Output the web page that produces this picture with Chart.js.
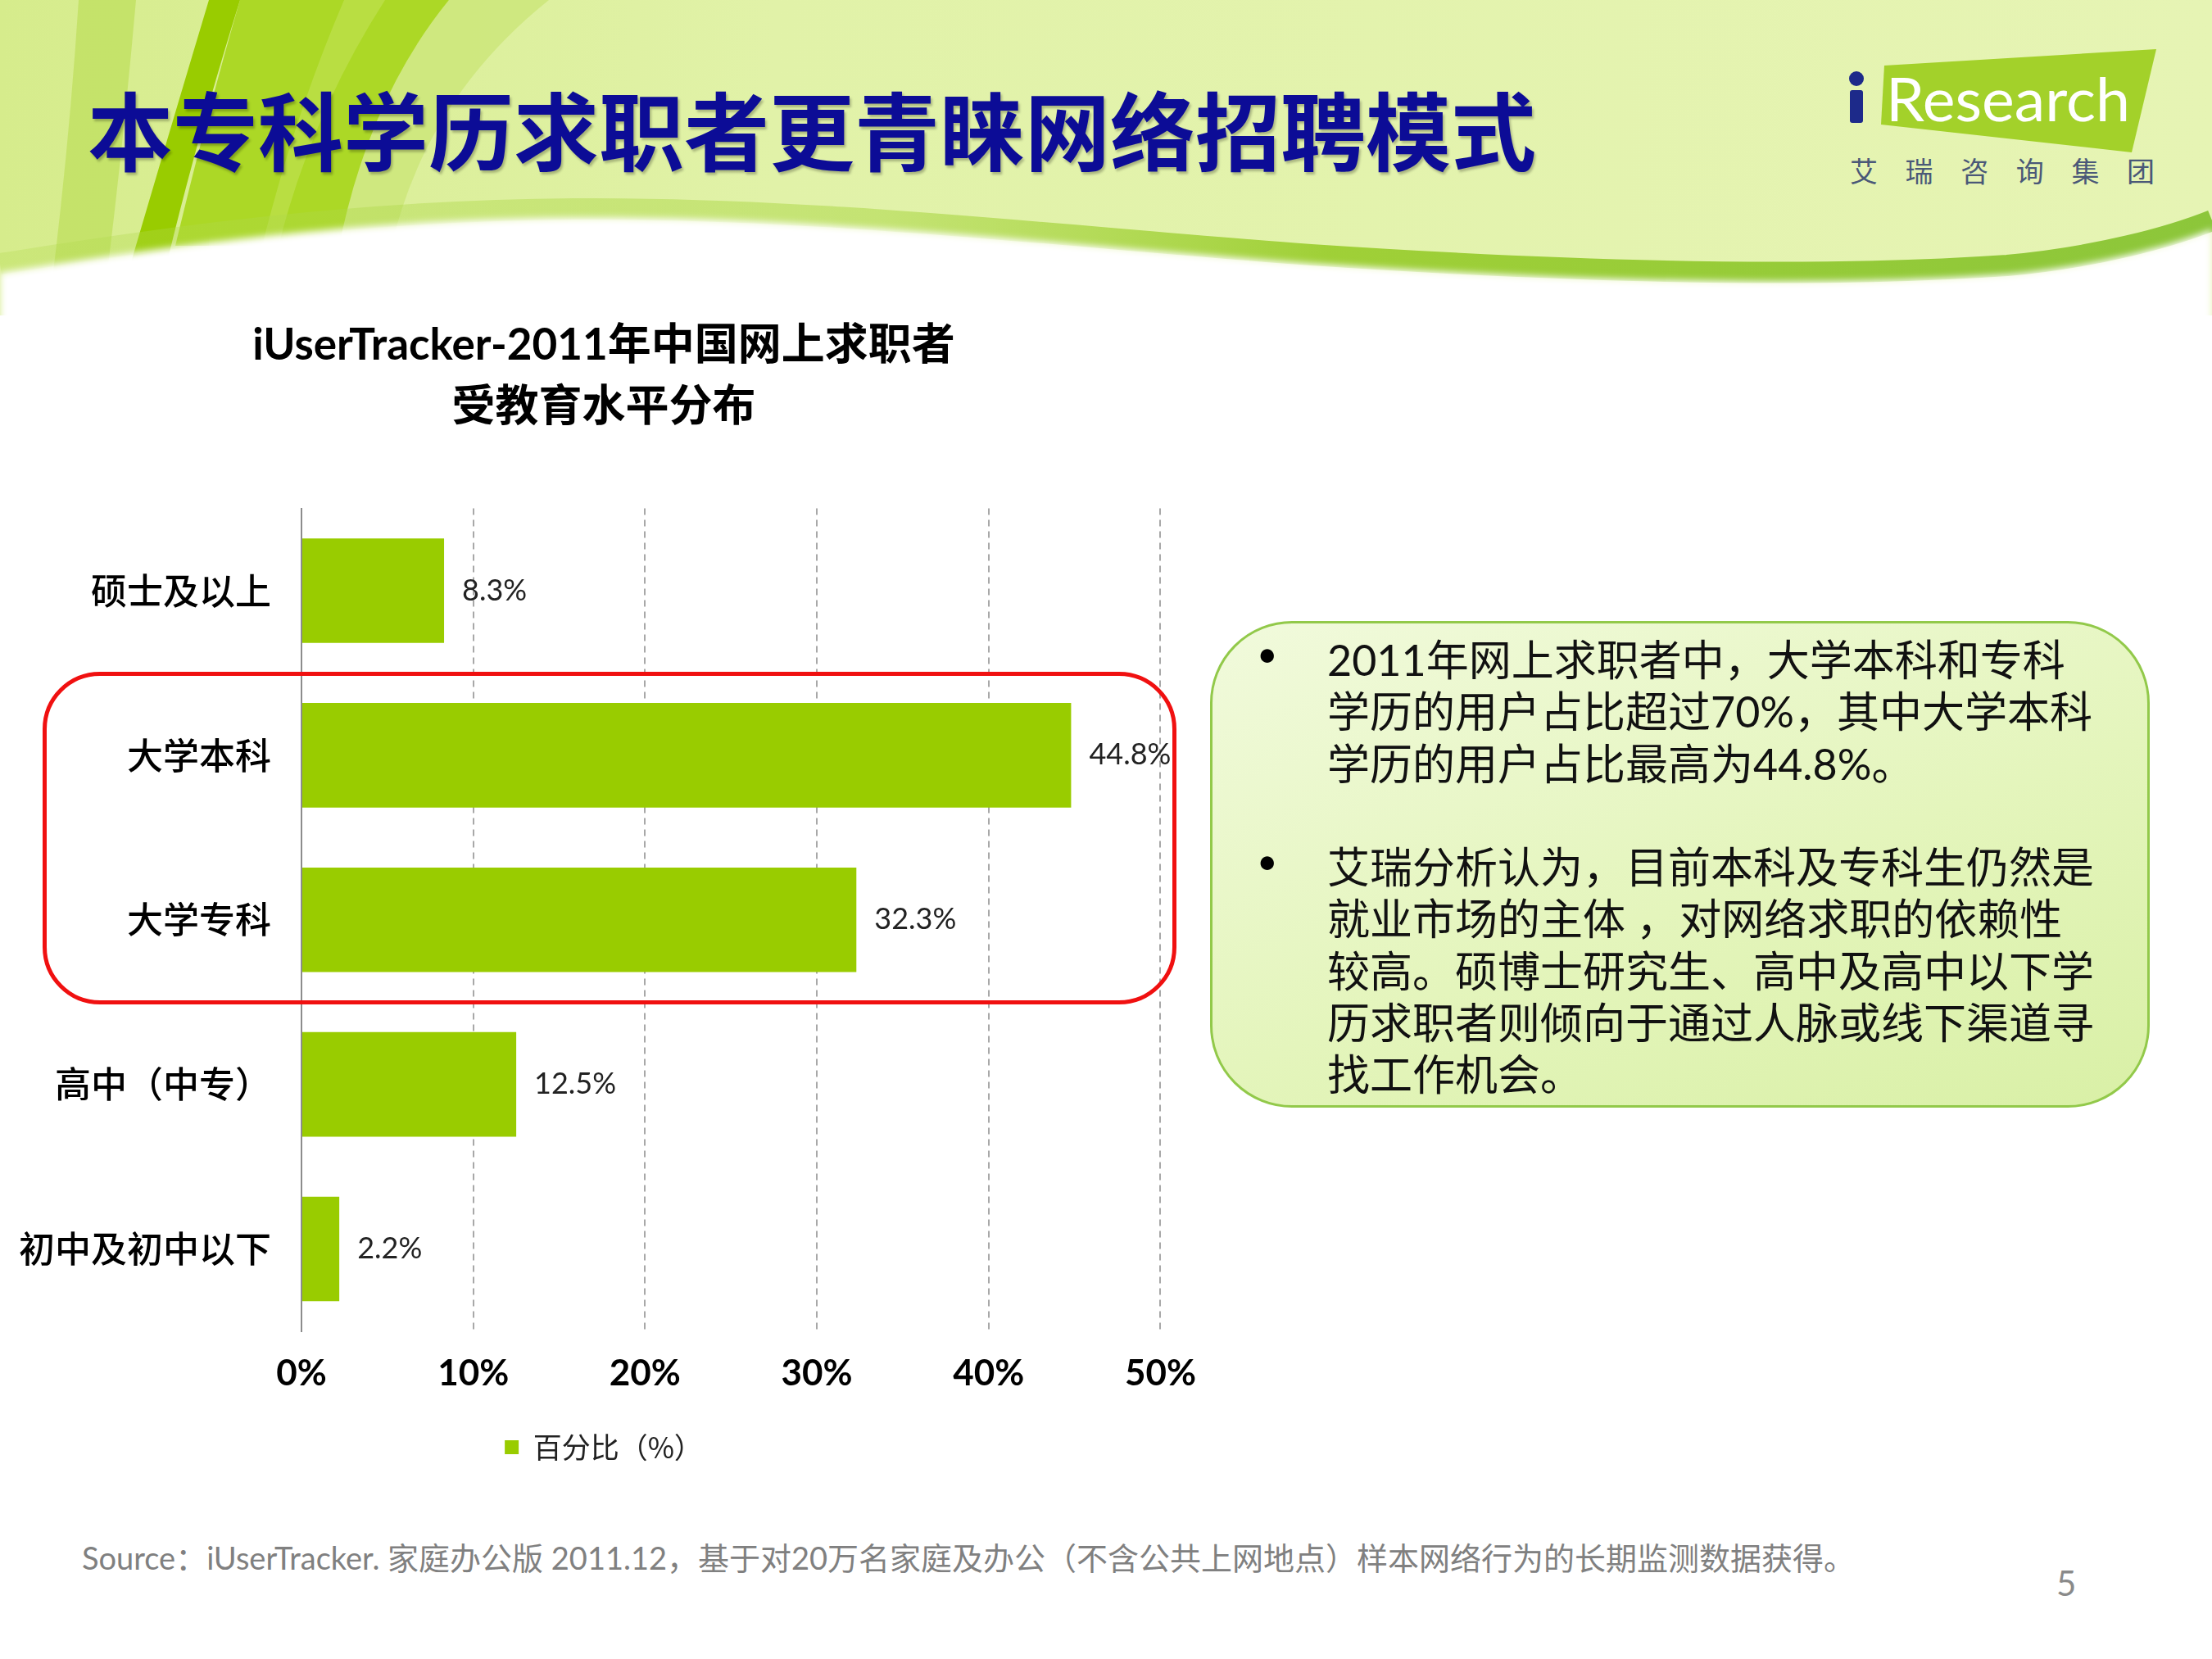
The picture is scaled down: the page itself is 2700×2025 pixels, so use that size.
<!DOCTYPE html>
<html>
<head>
<meta charset="utf-8">
<script src="https://cdn.jsdelivr.net/npm/chart.js@4.4.0/dist/chart.umd.min.js"></script>
<style>
html,body{margin:0;padding:0;}
body{width:2700px;height:2025px;position:relative;background:#fff;overflow:hidden;font-family:Lato,'Noto Sans CJK SC',sans-serif;}
#hdr{position:absolute;left:0;top:0;}
#mainTitle{position:absolute;left:107px;top:104px;font-family:'Noto Sans CJK SC',sans-serif;font-size:104px;font-weight:bold;color:#0c0c96;white-space:nowrap;line-height:104px;text-shadow:2px 3px 3px rgba(0,0,0,0.25);}
#chartWrap{position:absolute;left:0;top:360px;width:1485px;height:1460px;}
#redBox{position:absolute;left:52px;top:820px;width:1384px;height:406px;box-sizing:border-box;border:5px solid #f01010;border-radius:70px;pointer-events:none;}
#box{position:absolute;left:1477px;top:758px;width:1147px;height:594px;box-sizing:border-box;border:3px solid #92c94a;border-radius:100px;background:linear-gradient(160deg,#f1fadc 0%,#e4f5bc 55%,#d9f0a6 100%);}
#boxText{position:absolute;left:1620px;top:774px;font-size:52px;line-height:63.25px;color:#111;white-space:nowrap;}
.bullet{position:absolute;left:1534px;font-size:44px;color:#000;line-height:63.25px;}
#source{position:absolute;left:100px;top:1879px;font-size:38px;line-height:44px;color:#808080;white-space:nowrap;}
#page{position:absolute;left:2510px;top:1908px;font-size:42px;line-height:48px;color:#8a8a8a;}
</style>
</head>
<body>
<svg id="hdr" width="2700" height="400" viewBox="0 0 2700 400">
  <defs>
    <linearGradient id="bg" x1="0" y1="0" x2="1" y2="0">
      <stop offset="0" stop-color="#d6ec8c"/>
      <stop offset="0.35" stop-color="#e1f2a8"/>
      <stop offset="1" stop-color="#e6f4b4"/>
    </linearGradient>
    <linearGradient id="band" gradientUnits="userSpaceOnUse" x1="0" y1="0" x2="2700" y2="0">
      <stop offset="0" stop-color="#b2da4e" stop-opacity="0.3"/>
      <stop offset="0.4" stop-color="#a6d43c" stop-opacity="0.5"/>
      <stop offset="0.6" stop-color="#98cc2a" stop-opacity="0.9"/>
      <stop offset="1" stop-color="#8cc63a"/>
    </linearGradient>
    <filter id="soft" x="-5%" y="-50%" width="110%" height="200%"><feGaussianBlur stdDeviation="4"/></filter>
  </defs>
  <rect x="0" y="0" width="2700" height="400" fill="url(#bg)"/>
  <path d="M96,0 L166,0 Q150,180 130,340 L64,340 Q85,170 96,0 Z" fill="#c3e166" opacity="0.9"/>
  <path d="M548,0 L670,0 Q520,120 478,300 L400,300 Q450,120 548,0 Z" fill="#cde77c" opacity="0.9"/>
  <path d="M293,0 L548,0 Q450,120 414,300 L214,300 Q255,130 293,0 Z" fill="#acd826"/>
  <path d="M420,0 L470,0 Q380,140 340,300 L320,300 Q360,140 420,0 Z" fill="#bde04a" opacity="0.8"/>
  <path d="M255,0 L293,0 Q240,170 204,320 L160,320 Q210,150 255,0 Z" fill="#99cc00"/>
  <path d="M0,322 C150,299 400,257 700,255 C1000,253 1300,289 1600,311 C1900,331 2200,341 2450,324 C2560,314 2650,289 2700,269" fill="none" stroke="url(#band)" stroke-width="26"/>
  <path d="M0,333 C150,310 400,268 700,266 C1000,264 1300,300 1600,322 C1900,342 2200,352 2450,335 C2560,325 2650,300 2700,280 L2700,420 L0,420 Z" fill="#ffffff" filter="url(#soft)"/>
  <rect x="0" y="385" width="2700" height="15" fill="#ffffff"/>
  <polygon points="2300,80 2632,60 2602,186 2296,152" fill="#a3d12a"/>
  <circle cx="2266" cy="96" r="9" fill="#1d2a8a"/>
  <rect x="2258" y="110" width="16" height="40" rx="3" fill="#1d2a8a"/>
  <text x="2302" y="148" font-family="Lato" font-size="74" fill="#ffffff" textLength="298" lengthAdjust="spacingAndGlyphs">Research</text>
  <text x="2258" y="222" font-family="'Noto Sans CJK SC'" font-size="34" fill="#4a5878" textLength="372" lengthAdjust="spacing">艾瑞咨询集团</text>
</svg>
<div id="mainTitle">本专科学历求职者更青睐网络招聘模式</div>

<div id="chartWrap"><canvas id="c" width="1485" height="1460"></canvas></div>
<div id="redBox"></div>

<div id="box"></div>
<div class="bullet" style="top:766px;">•</div>
<div class="bullet" style="top:1019px;">•</div>
<div id="boxText">2011年网上求职者中，大学本科和专科<br>学历的用户占比超过70%，其中大学本科<br>学历的用户占比最高为44.8%。<br>&nbsp;<br>艾瑞分析认为，目前本科及专科生仍然是<br>就业市场的主体 ，对网络求职的依赖性<br>较高。硕博士研究生、高中及高中以下学<br>历求职者则倾向于通过人脉或线下渠道寻<br>找工作机会。</div>

<div id="source">Source：iUserTracker. 家庭办公版 2011.12，基于对20万名家庭及办公（不含公共上网地点）样本网络行为的长期监测数据获得。</div>
<div id="page">5</div>

<script>
const categories = ['硕士及以上', '大学本科', '大学专科', '高中（中专）', '初中及初中以下'];
const values = [8.3, 44.8, 32.3, 12.5, 2.2];
const seriesName = '百分比（%）';
const chartTitle = ['iUserTracker-2011年中国网上求职者', '受教育水平分布'];
const xTickValues = [0, 10, 20, 30, 40, 50];

const valueLabels = {
  id: 'valueLabels',
  afterDatasetsDraw(chart) {
    const ctx = chart.ctx;
    const meta = chart.getDatasetMeta(0);
    ctx.save();
    ctx.font = '36px Lato, "DejaVu Sans", sans-serif';
    ctx.fillStyle = '#222';
    ctx.textBaseline = 'middle';
    ctx.textAlign = 'left';
    meta.data.forEach((bar, i) => {
      ctx.fillText(values[i].toFixed(1) + '%', bar.x + 22, bar.y);
    });
    ctx.restore();
  }
};

new Chart(document.getElementById('c'), {
  type: 'bar',
  data: {
    labels: categories,
    datasets: [{
      label: seriesName,
      data: values,
      backgroundColor: '#99cc00',
      borderWidth: 0,
      categoryPercentage: 1,
      barPercentage: 0.635
    }]
  },
  options: {
    indexAxis: 'y',
    responsive: false,
    animation: false,
    devicePixelRatio: 1,
    layout: { padding: { left: 0, right: 11, top: 0, bottom: 26 } },
    plugins: {
      title: {
        display: true,
        text: chartTitle,
        color: '#000',
        font: { family: 'Lato, "Noto Sans CJK SC", sans-serif', size: 53, weight: 'bold', lineHeight: 1.42 },
        padding: { top: 24, bottom: 86 }
      },
      legend: {
        position: 'bottom',
        labels: {
          color: '#222',
          font: { family: '"Noto Sans CJK SC", sans-serif', size: 35 },
          boxWidth: 17,
          boxHeight: 17,
          padding: 10
        }
      },
      tooltip: { enabled: false }
    },
    scales: {
      x: {
        min: 0,
        max: 50,
        afterBuildTicks(scale) { scale.ticks = xTickValues.map(v => ({ value: v })); },
        ticks: {
          callback: v => v + '%',
          color: '#000',
          font: { family: 'Lato, "DejaVu Sans", sans-serif', size: 44, weight: 'bold' },
          padding: 25
        },
        grid: {
          color: ctx => (ctx.tick && ctx.tick.value === 0) ? 'rgba(0,0,0,0)' : '#a8a8a8',
          lineWidth: 2,
          drawTicks: false
        },
        border: { display: false, dash: [8, 6] },
        afterFit(scale) { scale.height = 114; }
      },
      y: {
        ticks: {
          color: '#000',
          font: { family: '"Noto Sans CJK SC", sans-serif', size: 44, weight: '500' },
          padding: 37
        },
        grid: { display: false, drawTicks: false },
        border: { display: true, color: '#8c8c8c', width: 2 },
        afterFit(scale) { scale.width = 368; }
      }
    }
  },
  plugins: [valueLabels]
});
</script>
</body>
</html>
